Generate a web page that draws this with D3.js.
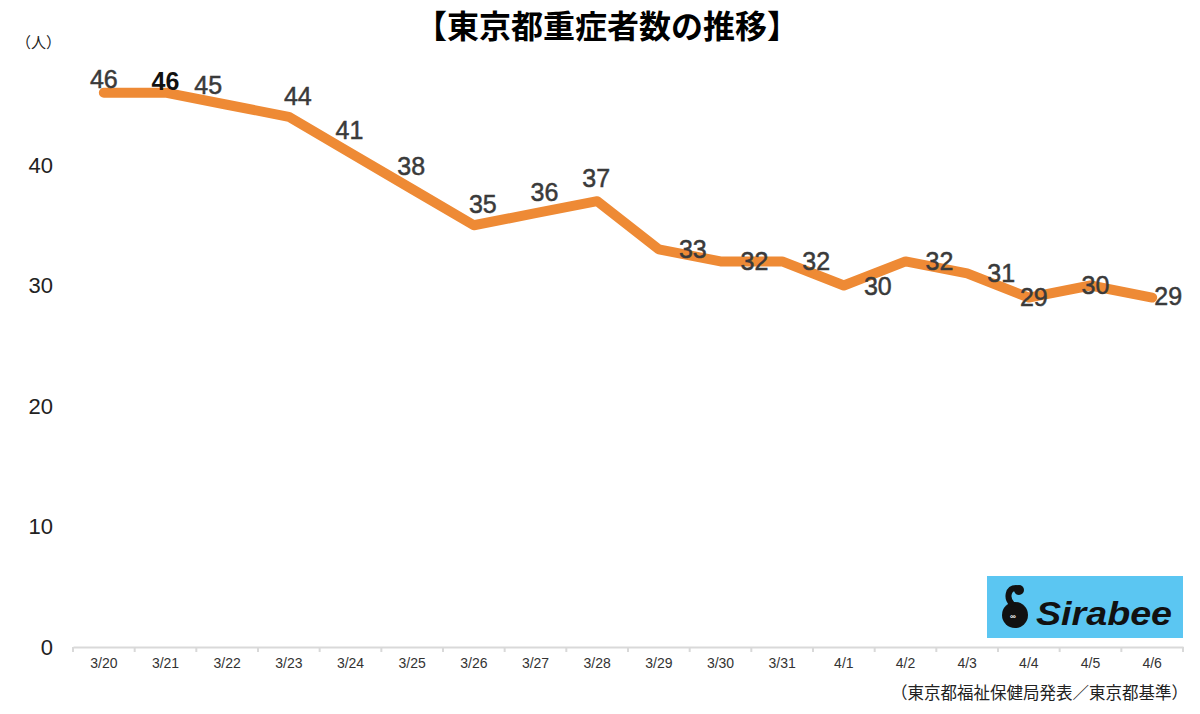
<!DOCTYPE html>
<html>
<head>
<meta charset="utf-8">
<script src="https://cdn.jsdelivr.net/npm/d3@7"></script>
<style>
  html, body { margin: 0; padding: 0; background: #fff; }
  svg { display: block; }
</style>
</head>
<body>
<svg id="chart" width="1200" height="714"></svg>
<script>
// ---- data ----
const categories = ["3/20","3/21","3/22","3/23","3/24","3/25","3/26","3/27","3/28","3/29","3/30","3/31","4/1","4/2","4/3","4/4","4/5","4/6"];
const values = [46,46,45,44,41,38,35,36,37,33,32,32,30,32,31,29,30,29];
const yTicks = [0,10,20,30,40];
// label placement keyword per point (top, top-left, top-right, right, centre, short right)
const labelPlacement = ["t0","tb","tl","tr","t","t","tr","tr","t","r","r","r","r","r","r","c","c","rs"];
const title = "【東京都重症者数の推移】";
const unitLabel = "（人）";
const sourceNote = "（東京都福祉保健局発表／東京都基準）";

// ---- layout/styles ----
const placementOffsets = {
  t0: [0, -14], tb: [0, -12], t: [-1, -23], tl: [-19, -20], tr: [9, -21],
  r: [34, 0], c: [5, -1], rs: [16, -2]
};
const svg = d3.select("#chart");
const numFont = "'Liberation Sans', Arial, 'Noto Sans', sans-serif";
const jpFont = "'Noto Sans CJK JP', 'Noto Sans', sans-serif";

const x = d3.scaleBand().domain(categories).range([73, 1183]).padding(0);
const y = d3.scaleLinear().domain([0, 50]).range([647, 44.5]);
const cx = d => x(d) + x.bandwidth() / 2;

// title
svg.append("text").attr("x", 607).attr("y", 38)
  .attr("text-anchor", "middle").attr("font-family", jpFont)
  .attr("font-weight", "bold").attr("font-size", 32).attr("fill", "#000")
  .text(title);

// unit label
svg.append("text").attr("x", 16).attr("y", 48)
  .attr("font-family", jpFont).attr("font-size", 15).attr("fill", "#222")
  .text(unitLabel);

// y axis (labels only)
const yAxis = svg.append("g").attr("transform", "translate(53,0)")
  .call(d3.axisLeft(y).tickValues(yTicks).tickSize(0).tickPadding(0).tickFormat(d3.format("d")));
yAxis.select(".domain").remove();
yAxis.selectAll("text").attr("font-family", numFont).attr("font-size", 22).attr("fill", "#222");

// x axis
const xAxis = svg.append("g").attr("transform", "translate(0,647)")
  .call(d3.axisBottom(x).tickSize(0).tickPadding(11));
xAxis.select(".domain").attr("stroke", "#d9d9d9").attr("stroke-width", 2);
xAxis.selectAll("text").attr("font-family", numFont).attr("font-size", 14).attr("fill", "#333");
// boundary ticks
const edges = categories.map(c => x(c)).concat([x.range()[1]]);
xAxis.selectAll(".edge").data(edges).enter().append("line")
  .attr("class", "edge").attr("x1", d => d).attr("x2", d => d)
  .attr("y1", 0).attr("y2", 5).attr("stroke", "#d9d9d9").attr("stroke-width", 2);

// line
const pts = categories.map((c, i) => ({ c, v: values[i], p: labelPlacement[i] }));
const line = d3.line().x(d => cx(d.c)).y(d => y(d.v));
svg.append("path").datum(pts).attr("d", line)
  .attr("fill", "none").attr("stroke", "#EE8A35").attr("stroke-width", 10)
  .attr("stroke-linejoin", "round").attr("stroke-linecap", "round");

// data labels
svg.selectAll(".dl").data(pts).enter().append("text")
  .attr("class", "dl")
  .attr("x", d => cx(d.c) + placementOffsets[d.p][0])
  .attr("y", d => y(d.v) + placementOffsets[d.p][1])
  .attr("dy", "0.36em")
  .attr("text-anchor", "middle")
  .attr("font-family", numFont).attr("font-size", 25)
  .attr("font-weight", d => d.p === "tb" ? "bold" : "normal")
  .attr("fill", d => d.p === "tb" ? "#111" : "#3a3a3a")
  .attr("stroke", d => d.p === "tb" ? "none" : "#3a3a3a")
  .attr("stroke-width", 0.5)
  .text(d => d.v);

// source note
svg.append("text").attr("x", 1188).attr("y", 699)
  .attr("text-anchor", "end").attr("font-family", jpFont)
  .attr("font-size", 16.5).attr("fill", "#222")
  .text(sourceNote);

// Sirabee logo
const logo = svg.append("g");
logo.append("rect").attr("x", 987).attr("y", 576).attr("width", 196).attr("height", 62).attr("fill", "#5BC6F2");
logo.append("circle").attr("cx", 1015).attr("cy", 615).attr("r", 13).attr("fill", "#111");
logo.append("path").attr("d", "M1012,604 C1006,598 1008,588 1016,588").attr("fill", "none").attr("stroke", "#111").attr("stroke-width", 6).attr("stroke-linecap", "round");
logo.append("circle").attr("cx", 1019).attr("cy", 590).attr("r", 5).attr("fill", "#111");
logo.append("text").attr("x", 1010).attr("y", 619).attr("font-size", 8).attr("fill", "#fff").attr("font-family", numFont).attr("font-weight", "bold").text("∞");
logo.append("text").attr("x", 1036).attr("y", 625)
  .attr("font-family", "'Liberation Sans', Arial, sans-serif").attr("font-weight", "bold")
  .attr("font-style", "italic").attr("font-size", 34).attr("fill", "#111")
  .attr("textLength", 136).attr("lengthAdjust", "spacingAndGlyphs")
  .text("Sirabee");
</script>
</body>
</html>
